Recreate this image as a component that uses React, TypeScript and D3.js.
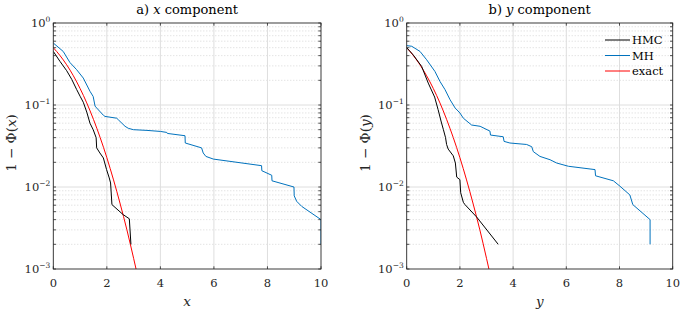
import * as d3 from "d3"

// exact tail 1 - Phi(t) (same in both panels)
const exactT = [0, 0.25, 0.5, 0.75, 1, 1.25, 1.5, 1.75, 2, 2.25, 2.5, 2.75, 3, 3.1]
const exactP = [0.5, 0.401, 0.309, 0.227, 0.159, 0.106, 0.0668, 0.0401, 0.0228, 0.0122, 0.0062, 0.003, 0.00135, 0.00097]

// a) x component
const hmcXa = [0, 0.25, 0.5, 0.69, 0.87, 1.0, 1.12, 1.25, 1.37, 1.49, 1.6, 1.62, 1.74, 1.87, 1.99, 2.09, 2.14, 2.19, 2.61, 2.84, 2.9]
const hmcPa = [0.45, 0.34, 0.262, 0.205, 0.155, 0.128, 0.108, 0.082, 0.06, 0.05, 0.04, 0.03, 0.026, 0.0226, 0.0163, 0.0129, 0.0112, 0.0061, 0.0046, 0.0041, 0.002]
const mhXa = [0, 0.37, 0.62, 0.87, 1.12, 1.37, 1.49, 1.56, 1.62, 1.87, 1.93, 2.37, 2.43, 2.68, 2.8, 2.99, 3.5, 4.0, 4.24, 4.26, 4.92, 4.93, 5.54, 5.6, 5.7, 5.98, 7.78, 7.79, 8.16, 8.17, 8.99, 9.0, 9.09, 9.28, 10, 10]
const mhPa = [0.57, 0.45, 0.33, 0.27, 0.213, 0.147, 0.127, 0.097, 0.092, 0.075, 0.0726, 0.069, 0.066, 0.055, 0.052, 0.05, 0.049, 0.0476, 0.0463, 0.045, 0.0422, 0.0344, 0.03, 0.026, 0.0236, 0.0219, 0.0182, 0.0158, 0.0139, 0.0119, 0.01, 0.0078, 0.0067, 0.0058, 0.004, 0.002]

// b) y component
const hmcXb = [0, 0.24, 0.56, 0.81, 1.05, 1.18, 1.3, 1.38, 1.46, 1.5, 1.56, 1.75, 1.83, 1.88, 2.0, 2.03, 2.13, 2.19, 2.63, 3.44]
const hmcPb = [0.5, 0.41, 0.296, 0.185, 0.125, 0.088, 0.062, 0.05, 0.04, 0.033, 0.029, 0.024, 0.0196, 0.0132, 0.0123, 0.0085, 0.0065, 0.0061, 0.0043, 0.002]
const mhXb = [0, 0.19, 0.5, 0.75, 1.06, 1.25, 1.44, 1.63, 1.82, 2.0, 2.13, 2.44, 2.76, 3.13, 3.15, 3.63, 3.66, 3.88, 4.51, 4.7, 4.76, 5.01, 5.39, 5.64, 6.08, 7.08, 7.1, 7.77, 8.02, 8.39, 8.5, 9.15, 9.15]
const mhPb = [0.53, 0.52, 0.45, 0.356, 0.257, 0.194, 0.154, 0.116, 0.092, 0.08, 0.069, 0.057, 0.055, 0.048, 0.043, 0.041, 0.036, 0.0344, 0.033, 0.031, 0.027, 0.0236, 0.0215, 0.0196, 0.0179, 0.0163, 0.0137, 0.0119, 0.0102, 0.008, 0.0061, 0.004, 0.002]

const xTicks = [0, 2, 4, 6, 8, 10]
const yExps = [-3, -2, -1, 0]
const legendNames = ["HMC", "MH", "exact"]

const colors = { hmc: "#000000", mh: "#0072BD", exact: "#FF0000" }
const font = "'DejaVu Serif', serif"

const W = 681
const H = 311
const top = 23
const plotH = 246

const zip = (xs: number[], ps: number[]) => xs.map((x, i) => [x, ps[i]] as [number, number])

function Panel({ left, width, letter, v, hmc, mh, legend }: any) {
  const x = d3.scaleLinear().domain([0, 10]).range([left, left + width])
  const y = d3.scaleLog().domain([1e-3, 1]).range([top + plotH, top])
  const exactPath = d3.line<[number, number]>().x((d) => x(d[0])).y((d) => y(d[1])).curve(d3.curveMonotoneX)(zip(exactT, exactP))
  const straight = d3.line<[number, number]>().x((d) => x(d[0])).y((d) => y(d[1]))

  const minors: number[] = []
  yExps.slice(0, 3).forEach((e) => {
    for (let k = 2; k <= 9; k++) minors.push(k * Math.pow(10, e))
  })
  const clipId = "clip-" + letter
  const bottom = top + plotH
  const right = left + width
  const tl = 2.7

  return (
    <g>
      <defs>
        <clipPath id={clipId}>
          <rect x={left} y={top} width={width} height={plotH} />
        </clipPath>
      </defs>
      {/* minor grid */}
      {minors.map((m) => (
        <line key={"mg" + m} x1={left} x2={right} y1={y(m)} y2={y(m)} stroke="#bdbdbd" strokeWidth={0.6} strokeDasharray="1,2" />
      ))}
      {/* major grid */}
      {xTicks.slice(1, -1).map((t) => (
        <line key={"gx" + t} x1={x(t)} x2={x(t)} y1={top} y2={bottom} stroke="#dedede" strokeWidth={1} />
      ))}
      {yExps.slice(1, -1).map((e) => (
        <line key={"gy" + e} x1={left} x2={right} y1={y(Math.pow(10, e))} y2={y(Math.pow(10, e))} stroke="#dedede" strokeWidth={1} />
      ))}

      <g clipPath={`url(#${clipId})`} fill="none" strokeWidth={1}>
        <path d={straight(mh) || ""} stroke={colors.mh} />
        <path d={exactPath || ""} stroke={colors.exact} />
        <path d={straight(hmc) || ""} stroke={colors.hmc} />
      </g>

      {/* box */}
      <rect x={left} y={top} width={width} height={plotH} fill="none" stroke="#262626" strokeWidth={0.9} />
      {/* ticks */}
      {xTicks.map((t) => (
        <g key={"xt" + t} stroke="#262626" strokeWidth={0.8}>
          <line x1={x(t)} x2={x(t)} y1={bottom} y2={bottom - tl} />
          <line x1={x(t)} x2={x(t)} y1={top} y2={top + tl} />
        </g>
      ))}
      {minors.concat(yExps.map((e) => Math.pow(10, e))).map((m) => (
        <g key={"yt" + m} stroke="#262626" strokeWidth={0.8}>
          <line x1={left} x2={left + tl} y1={y(m)} y2={y(m)} />
          <line x1={right} x2={right - tl} y1={y(m)} y2={y(m)} />
        </g>
      ))}

      {/* tick labels */}
      <g style={{ fontFamily: font }} fill="#262626">
        {xTicks.map((t) => (
          <text key={"xl" + t} x={x(t)} y={bottom + 18} textAnchor="middle" fontSize={11.5}>
            {t}
          </text>
        ))}
        {yExps.map((e) => (
          <text key={"yl" + e} x={left - 3} y={y(Math.pow(10, e)) + 4} textAnchor="end" fontSize={11.5}>
            10
            <tspan dy={-5.5} fontSize={7.5}>
              {e < 0 ? "−" + -e : String(e)}
            </tspan>
          </text>
        ))}
      </g>

      {/* title and axis labels */}
      <text x={(left + right) / 2} y={14} textAnchor="middle" style={{ fontFamily: font }} fontSize={13} fill="#000">
        {letter}){" "}
        <tspan fontStyle="italic">{v}</tspan> component
      </text>
      <text x={(left + right) / 2} y={bottom + 37} textAnchor="middle" style={{ fontFamily: font }} fontSize={13.5} fontStyle="italic" fill="#262626">
        {v}
      </text>
      <text
        transform={`translate(${left - 37},${(top + bottom) / 2 - 3}) rotate(-90)`}
        textAnchor="middle"
        style={{ fontFamily: font }}
        fontSize={13.5}
        fill="#262626"
      >
        1 − Φ(<tspan fontStyle="italic">{v}</tspan>)
      </text>

      {legend && (
        <g style={{ fontFamily: font }} fontSize={11.5}>
          {legendNames.map((n, i) => {
            const c = [colors.hmc, colors.mh, colors.exact][i]
            const ly = 40 + i * 15.5
            return (
              <g key={n}>
                <line x1={605} x2={630} y1={ly} y2={ly} stroke={c} strokeWidth={1} />
                <text x={632} y={ly + 4} fill="#000">
                  {n}
                </text>
              </g>
            )
          })}
        </g>
      )}
    </g>
  )
}

export default function App() {
  return (
    <svg width={W} height={H} style={{ position: "absolute", left: 0, top: 0, background: "#fff" }}>
      <rect width={W} height={H} fill="#fff" />
      <Panel left={53.3} width={267.7} letter="a" v="x" hmc={zip(hmcXa, hmcPa)} mh={zip(mhXa, mhPa)} legend={false} />
      <Panel left={406.7} width={266} letter="b" v="y" hmc={zip(hmcXb, hmcPb)} mh={zip(mhXb, mhPb)} legend={true} />
    </svg>
  )
}
